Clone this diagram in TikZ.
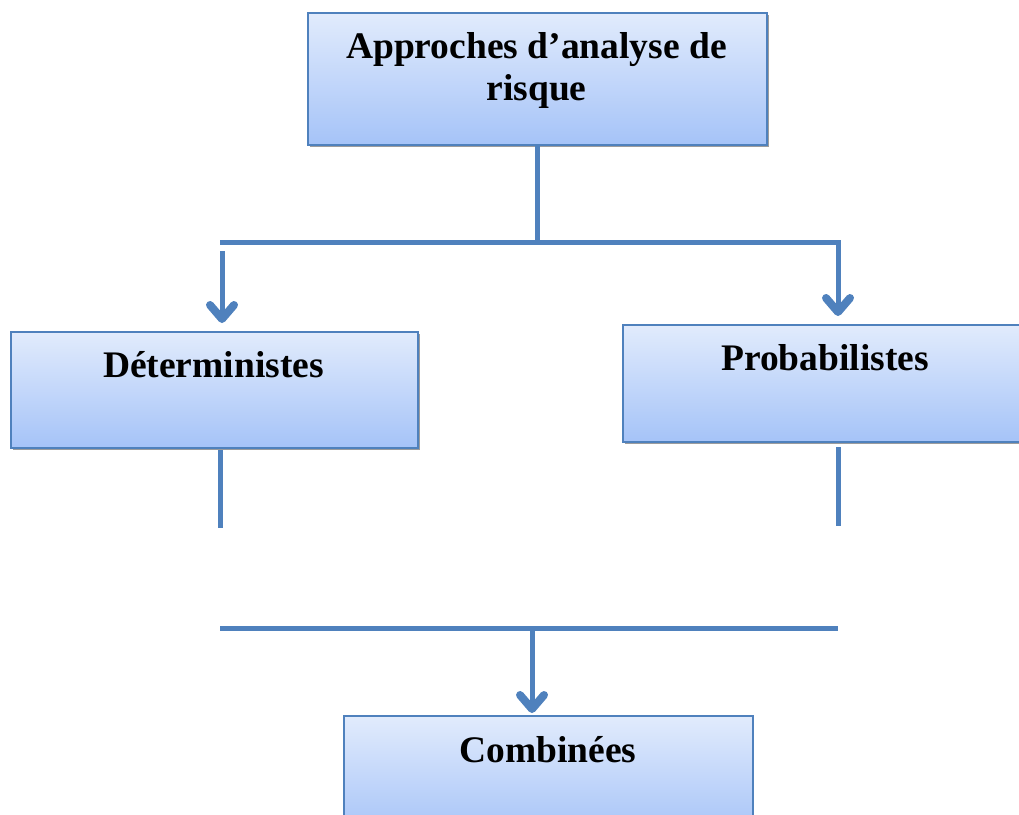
\documentclass[tikz,border=0pt]{standalone}
\usepackage{fontspec}
\setmainfont{Liberation Serif}
\usetikzlibrary{arrows.meta}
\definecolor{edgeblue}{HTML}{4F81BD}
\definecolor{fillhi}{HTML}{E1EBFC}
\definecolor{filllo}{HTML}{A5C3F8}
\definecolor{shadowgray}{HTML}{9C9C9C}
\tikzset{
  box/.style={draw=edgeblue, line width=2.4pt, top color=fillhi, bottom color=filllo,
    rectangle, inner sep=0pt, anchor=north west},
  boxshadow/.style={fill=shadowgray, draw=none, rectangle, inner sep=0pt, anchor=north west},
  label text/.style={font=\fontsize{37.5}{42}\selectfont\bfseries, anchor=base, inner sep=0pt},
  link/.style={draw=edgeblue, line width=5pt},
  arrowlink/.style={link, -{Straight Barb[length=14pt, width=24pt, line width=8pt 0, round]}},
}
\begin{document}
\begin{tikzpicture}[x=1pt, y=1pt]
  \useasboundingbox (0,-814) rectangle (1019,0);
  \clip (0,-814) rectangle (1019,0);

  % drop shadows, offset down and right
  \node[boxshadow, minimum width=459pt, minimum height=132pt] (s1) at (310,-15) {};
  \node[boxshadow, minimum width=407pt, minimum height=116pt] (s2) at (13,-334) {};
  \node[boxshadow, minimum width=400pt, minimum height=117pt] (s3) at (625,-327) {};

  % boxes
  \node[box, minimum width=459pt, minimum height=132pt] (root) at (307,-12) {};
  \node[box, minimum width=407pt, minimum height=116pt] (det) at (10,-331) {};
  \node[box, minimum width=400pt, minimum height=117pt] (prob) at (622,-324) {};
  \node[box, minimum width=409pt, minimum height=120pt] (comb) at (343,-715) {};

  % labels
  \node[label text] (rootA) at (536.5,-58) {Approches d’analyse de};
  \node[label text] (rootB) at (536.5,-100) {risque};
  \node[label text] (detT) at (213.5,-377) {Déterministes};
  \node[label text] (probT) at (825,-370) {Probabilistes};
  \node[label text] (combT) at (548,-762) {Combinées};

  % branching from the root
  \coordinate (barL) at (220,-242);
  \coordinate (barR) at (838,-242);
  \coordinate (barRend) at (840.5,-242);
  \coordinate (barM) at (537,-242);
  \coordinate (detTop) at (222,-251);
  \coordinate (detTip) at (222,-323);
  \coordinate (probTip) at (838,-316);
  \draw[link] (root.south -| barM) -- (barM);
  \draw[link] (barL) -- (barRend);
  \draw[arrowlink] (barR) -- (probTip);
  \draw[arrowlink] (detTop) -- (detTip);

  % joining into the combined approach
  \coordinate (lowL) at (220,-628);
  \coordinate (lowR) at (838,-628);
  \coordinate (lowM) at (532,-628);
  \coordinate (combTip) at (532,-713);
  \coordinate (detStart) at (220,-450);
  \coordinate (detEnd) at (220,-528);
  \coordinate (probStart) at (838,-447);
  \coordinate (probEnd) at (838,-526);
  \draw[link] (detStart) -- (detEnd);
  \draw[link] (probStart) -- (probEnd);
  \draw[link] (lowL) -- (lowR);
  \draw[arrowlink] (lowM) -- (combTip);
\end{tikzpicture}
\end{document}
